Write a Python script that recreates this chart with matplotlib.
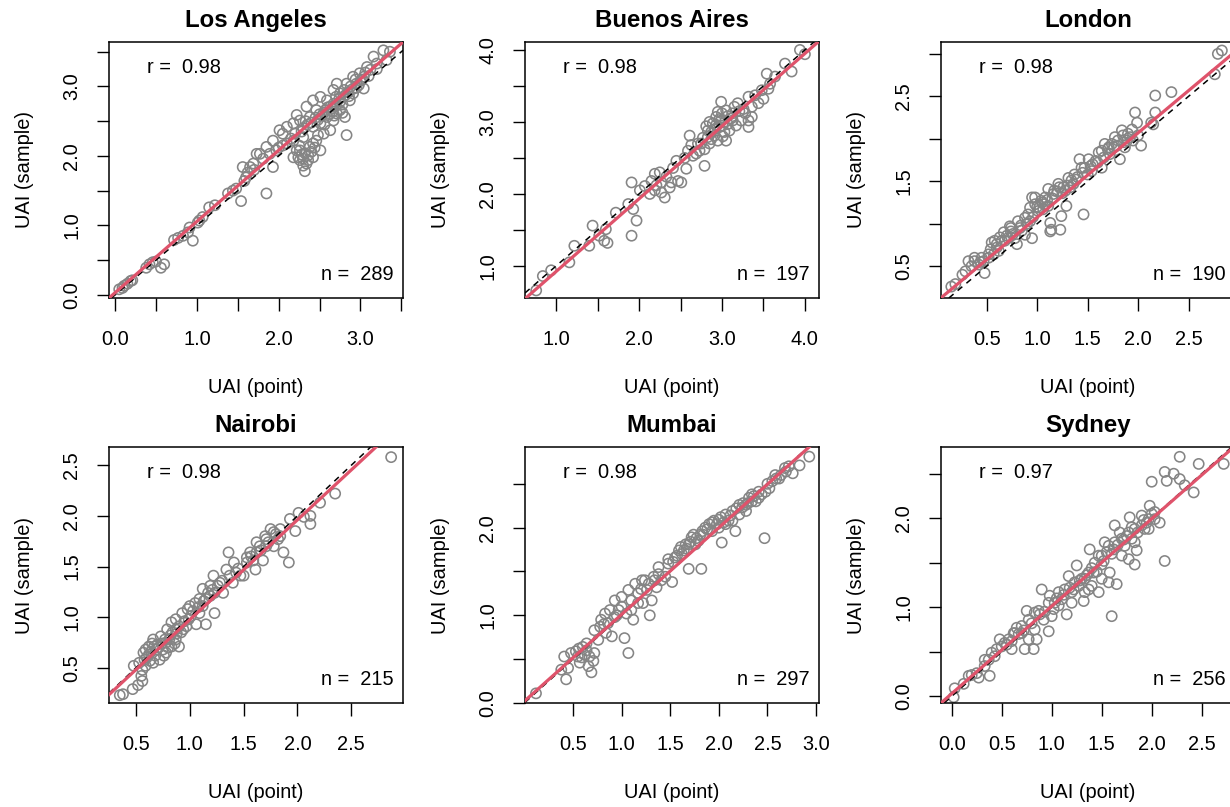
import numpy as np
import matplotlib
matplotlib.use("Agg")
import matplotlib.pyplot as plt

plt.rcParams["font.family"] = ["Liberation Sans", "DejaVu Sans"]

cities = ["Los Angeles", "Buenos Aires", "London", "Nairobi", "Mumbai", "Sydney"]
r_vals = [0.98, 0.98, 0.98, 0.98, 0.98, 0.97]
n_vals = [289, 197, 190, 215, 297, 256]
# lm fit (intercept, slope)
fit_a = [0.032, -0.086, 0.080, -0.011, 0.020, 0.030]
fit_b = [1.025, 1.009, 0.995, 0.986, 0.990, 0.982]

# (UAI point, UAI sample) pairs
la = [(0.05, 0.08), (0.09, 0.10), (0.11, 0.13), (0.15, 0.16), (0.19, 0.20), (0.21, 0.21),
      (0.38, 0.39), (0.42, 0.44), (0.46, 0.47), (0.50, 0.48), (0.56, 0.39), (0.60, 0.44),
      (0.72, 0.79), (0.77, 0.82), (0.83, 0.85), (0.89, 0.90), (0.91, 0.97), (0.95, 0.78),
      (1.01, 1.04), (1.03, 1.07), (1.07, 1.12), (1.15, 1.26), (1.22, 1.29),
      (1.38, 1.46), (1.44, 1.50), (1.48, 1.53), (1.54, 1.35), (1.85, 1.46),
      (1.56, 1.84), (1.60, 1.69), (1.65, 1.84), (1.69, 1.89), (1.73, 2.03), (1.77, 2.03),
      (1.81, 1.96), (1.85, 2.13), (1.89, 2.03), (1.93, 1.84), (1.93, 2.22), (1.97, 2.08),
      (2.01, 2.37), (2.05, 2.32), (2.10, 2.18), (2.10, 2.42), (2.18, 1.98), (2.18, 2.22),
      (2.18, 2.47), (2.22, 2.08), (2.22, 2.59), (2.24, 1.98), (2.26, 1.94), (2.26, 2.08),
      (2.26, 2.51), (2.30, 1.86), (2.30, 2.27), (2.32, 1.78), (2.34, 1.89), (2.34, 2.71),
      (2.36, 2.01), (2.38, 2.13), (2.38, 2.56), (2.42, 1.98), (2.42, 2.18), (2.42, 2.42),
      (2.42, 2.80), (2.46, 2.22), (2.46, 2.66), (2.51, 2.08), (2.51, 2.47), (2.51, 2.85),
      (2.55, 2.32), (2.59, 2.56), (2.59, 2.80), (2.63, 2.37), (2.63, 2.71), (2.67, 2.51),
      (2.67, 2.75), (2.67, 2.95), (2.71, 2.61), (2.71, 3.04), (2.75, 2.66), (2.75, 2.90),
      (2.79, 2.85), (2.81, 2.56), (2.83, 2.30), (2.83, 3.04), (2.87, 2.80), (2.91, 2.90),
      (2.91, 3.14), (2.95, 3.04), (2.99, 3.19), (3.04, 2.97), (3.04, 3.14), (3.08, 3.28),
      (3.12, 3.24), (3.16, 3.43), (3.20, 3.33), (3.28, 3.52), (3.32, 3.38), (3.36, 3.50),
      (2.55, 2.62), (2.65, 2.68), (2.75, 2.78), (2.85, 2.92), (2.95, 2.98), (3.00, 3.08),
      (2.60, 2.70), (2.70, 2.85), (2.80, 2.95), (2.88, 3.00), (2.50, 2.60), (2.45, 2.55),
      (2.35, 2.45), (2.30, 2.40), (2.20, 2.32), (2.15, 2.25), (2.05, 2.15), (2.00, 2.12),
      (3.10, 3.15), (3.20, 3.25),
      (2.28, 2.35), (2.33, 2.50), (2.40, 2.48), (2.48, 2.52), (2.53, 2.58), (2.57, 2.66),
      (2.62, 2.60), (2.66, 2.64), (2.70, 2.72), (2.74, 2.82), (2.78, 2.74), (2.82, 2.88),
      (2.86, 2.86), (2.90, 2.96), (2.94, 3.10), (2.98, 3.02), (3.02, 3.10), (3.06, 3.20),
      (2.28, 2.02), (2.32, 2.04), (2.36, 1.94), (2.40, 2.06), (2.44, 2.12), (2.30, 1.96),
      (2.25, 2.15), (2.48, 2.30), (2.56, 2.45), (2.68, 2.58), (2.78, 2.62), (1.62, 1.76),
      (1.70, 1.80), (1.58, 1.64)]

ba = [(0.76, 0.66), (0.84, 0.86), (0.94, 0.94), (1.16, 1.05), (1.22, 1.28), (1.40, 1.28),
      (1.44, 1.56), (1.52, 1.42), (1.58, 1.35), (1.62, 1.32), (1.60, 1.51), (1.72, 1.74),
      (1.87, 1.86), (1.91, 1.42), (1.91, 2.16), (1.97, 1.63), (1.93, 1.79), (2.01, 2.05),
      (2.07, 2.11), (2.13, 2.00), (2.19, 2.28), (2.25, 2.30), (2.27, 2.02), (2.31, 1.95),
      (2.37, 2.09), (2.27, 2.16), (2.45, 2.46), (2.51, 2.16), (2.47, 2.18), (2.57, 2.35),
      (2.59, 2.60), (2.61, 2.81), (2.65, 2.53), (2.71, 2.70), (2.77, 2.78), (2.79, 2.39),
      (2.85, 3.00), (2.87, 2.76), (2.91, 2.90), (2.95, 2.74), (2.99, 3.28), (3.00, 3.12),
      (3.05, 2.74), (3.07, 2.97), (3.11, 3.05), (3.15, 3.21), (3.19, 3.26), (3.23, 3.02),
      (3.32, 2.93), (3.32, 3.35), (3.36, 3.21), (3.40, 3.37), (3.50, 3.32), (3.54, 3.67),
      (3.58, 3.53), (3.64, 3.63), (3.76, 3.81), (3.84, 3.70), (3.94, 4.00), (4.00, 3.94),
      (2.83, 2.88), (2.89, 2.98), (2.93, 3.07), (2.97, 2.93), (3.03, 2.86), (3.09, 2.88),
      (3.13, 3.02), (3.17, 2.95), (2.95, 3.14), (2.83, 2.79), (2.91, 2.81), (2.75, 2.70),
      (2.99, 3.02), (3.05, 3.16), (3.28, 3.12), (3.36, 3.07), (3.44, 3.26), (3.48, 3.44),
      (3.56, 3.46), (3.32, 3.02),
      (2.81, 2.94), (2.87, 2.86), (2.93, 2.96), (2.97, 3.04), (3.01, 2.95), (3.07, 3.08),
      (3.13, 3.12), (2.79, 2.62), (2.73, 2.60), (2.63, 2.68), (2.69, 2.56), (2.55, 2.50),
      (2.41, 2.36), (2.33, 2.24), (2.21, 2.12), (2.15, 2.18), (2.39, 2.16), (2.19, 2.05),
      (3.21, 3.15), (3.26, 3.18), (3.01, 2.80), (2.85, 2.70)]

lon = [(0.15, 0.26), (0.19, 0.29), (0.29, 0.44), (0.32, 0.56), (0.38, 0.56), (0.38, 0.60),
       (0.42, 0.52), (0.45, 0.60), (0.47, 0.56), (0.48, 0.42), (0.52, 0.60), (0.52, 0.64),
       (0.55, 0.78), (0.57, 0.64), (0.58, 0.80), (0.60, 0.76), (0.62, 0.68), (0.63, 0.84),
       (0.65, 0.80), (0.67, 0.90), (0.70, 0.86), (0.71, 0.83), (0.73, 0.97), (0.74, 0.91),
       (0.74, 0.95), (0.78, 0.83), (0.80, 0.76), (0.81, 1.03), (0.83, 0.95), (0.85, 0.92),
       (0.88, 0.87), (0.88, 1.07), (0.91, 1.11), (0.93, 1.03), (0.93, 1.19), (0.95, 0.83),
       (0.95, 1.31), (0.98, 1.23), (0.98, 1.31), (1.01, 1.15), (1.02, 1.19), (1.04, 1.27),
       (1.06, 1.17), (1.07, 1.23), (1.08, 1.31), (1.11, 1.21), (1.11, 1.41), (1.13, 1.01),
       (1.13, 0.91), (1.14, 0.93), (1.16, 1.35), (1.17, 1.39), (1.21, 1.47), (1.22, 1.43),
       (1.23, 0.93), (1.24, 1.09), (1.26, 1.43), (1.28, 1.39), (1.29, 1.21), (1.31, 1.54),
       (1.33, 1.43), (1.34, 1.51), (1.36, 1.47), (1.37, 1.58), (1.39, 1.52), (1.42, 1.76),
       (1.44, 1.66), (1.46, 1.11), (1.47, 1.66), (1.50, 1.58), (1.51, 1.76), (1.53, 1.68),
       (1.54, 1.62), (1.58, 1.74), (1.61, 1.84), (1.64, 1.66), (1.64, 1.86), (1.67, 1.94),
       (1.70, 1.88), (1.72, 1.82), (1.74, 1.94), (1.76, 1.90), (1.77, 2.02), (1.80, 1.98),
       (1.82, 1.76), (1.84, 2.10), (1.85, 2.04), (1.87, 1.90), (1.89, 1.98), (1.90, 2.06),
       (1.94, 2.11), (1.95, 1.98), (1.97, 2.31), (1.99, 2.19), (2.00, 2.04), (2.03, 1.92),
       (2.13, 2.19), (2.15, 2.17), (2.17, 2.31), (2.17, 2.51), (2.33, 2.55), (2.76, 2.76),
       (2.79, 3.00), (2.83, 3.04),
       (0.68, 0.80), (0.76, 0.88), (0.84, 0.98), (0.90, 1.00), (0.96, 1.08), (1.00, 1.20),
       (1.05, 1.25), (1.10, 1.28), (1.15, 1.30), (1.20, 1.38), (1.25, 1.36), (1.30, 1.45),
       (1.40, 1.55), (1.45, 1.60), (1.55, 1.70), (1.60, 1.72), (1.66, 1.78), (1.71, 1.90),
       (1.79, 1.92), (1.86, 1.96), (1.92, 2.02), (0.54, 0.70), (0.60, 0.72), (0.44, 0.55),
       (0.35, 0.50), (0.26, 0.40)]

nai = [(0.35, 0.23), (0.38, 0.24), (0.47, 0.29), (0.52, 0.33), (0.55, 0.42), (0.56, 0.37),
       (0.48, 0.52), (0.53, 0.55), (0.56, 0.48), (0.58, 0.58), (0.59, 0.52), (0.59, 0.68),
       (0.62, 0.63), (0.62, 0.71), (0.66, 0.55), (0.66, 0.78), (0.67, 0.71), (0.69, 0.68),
       (0.70, 0.73), (0.72, 0.58), (0.73, 0.81), (0.75, 0.68), (0.77, 0.78), (0.78, 0.65),
       (0.78, 0.75), (0.81, 0.78), (0.83, 0.71), (0.83, 0.95), (0.84, 0.85), (0.87, 0.78),
       (0.87, 0.88), (0.87, 0.98), (0.90, 0.71), (0.90, 0.91), (0.92, 0.85), (0.93, 1.04),
       (0.95, 0.96), (0.97, 0.91), (0.98, 1.08), (1.00, 1.11), (1.01, 1.01), (1.05, 1.14),
       (1.06, 0.93), (1.09, 1.04), (1.09, 1.18), (1.12, 1.11), (1.12, 1.28), (1.15, 0.93),
       (1.15, 1.18), (1.19, 1.21), (1.19, 1.31), (1.22, 1.41), (1.23, 1.04), (1.23, 1.24),
       (1.26, 1.31), (1.28, 1.34), (1.31, 1.24), (1.34, 1.47), (1.36, 1.64), (1.37, 1.41),
       (1.40, 1.34), (1.41, 1.54), (1.43, 1.44), (1.47, 1.41), (1.50, 1.41), (1.53, 1.54),
       (1.53, 1.59), (1.56, 1.64), (1.59, 1.56), (1.61, 1.47), (1.62, 1.64), (1.65, 1.70),
       (1.68, 1.56), (1.70, 1.80), (1.71, 1.70), (1.71, 1.77), (1.75, 1.87), (1.78, 1.70),
       (1.78, 1.84), (1.82, 1.77), (1.84, 1.80), (1.84, 1.87), (1.87, 1.64), (1.92, 1.54),
       (1.93, 1.97), (1.98, 1.85), (2.01, 2.03), (2.06, 1.99), (2.12, 1.92), (2.12, 2.00),
       (2.21, 2.13), (2.35, 2.22), (2.87, 2.58),
       (0.60, 0.60), (0.64, 0.66), (0.68, 0.62), (0.71, 0.70), (0.74, 0.74), (0.76, 0.62),
       (0.80, 0.70), (0.82, 0.82), (0.86, 0.74), (0.88, 0.84), (0.57, 0.65), (0.63, 0.57),
       (0.65, 0.74), (0.79, 0.88), (0.94, 0.88), (0.99, 0.98), (1.03, 1.06), (1.08, 1.10),
       (1.13, 1.16), (1.17, 1.24), (1.21, 1.27), (1.30, 1.36), (1.45, 1.48), (1.57, 1.60),
       (1.66, 1.66), (1.73, 1.74), (1.80, 1.82), (1.62, 1.74)]

mum = [(0.12, 0.11), (0.38, 0.38), (0.43, 0.27), (0.45, 0.40), (0.41, 0.53), (0.48, 0.57),
       (0.53, 0.59), (0.55, 0.53), (0.57, 0.46), (0.59, 0.52), (0.60, 0.64), (0.64, 0.68),
       (0.64, 0.60), (0.66, 0.42), (0.69, 0.35), (0.67, 0.53), (0.72, 0.57), (0.71, 0.48),
       (0.72, 0.83), (0.76, 0.72), (0.78, 0.87), (0.79, 0.95), (0.83, 1.02), (0.84, 0.80),
       (0.86, 0.91), (0.88, 1.06), (0.90, 0.76), (0.93, 0.98), (0.93, 1.17), (0.97, 1.06),
       (1.00, 1.10), (1.00, 1.21), (1.03, 0.74), (1.05, 1.02), (1.07, 0.57), (1.07, 1.29),
       (1.10, 1.17), (1.10, 1.06), (1.12, 0.95), (1.14, 1.36), (1.17, 1.25), (1.17, 1.14),
       (1.21, 1.40), (1.22, 1.14), (1.24, 1.40), (1.26, 1.29), (1.29, 1.00), (1.31, 1.17),
       (1.33, 1.44), (1.36, 1.32), (1.38, 1.47), (1.38, 1.55), (1.41, 1.40), (1.45, 1.44),
       (1.48, 1.64), (1.48, 1.59), (1.52, 1.38), (1.53, 1.61), (1.55, 1.66), (1.59, 1.74),
       (1.62, 1.70), (1.64, 1.74), (1.66, 1.81), (1.69, 1.53), (1.69, 1.81), (1.72, 1.89),
       (1.74, 1.92), (1.76, 1.81), (1.79, 1.85), (1.81, 1.92), (1.82, 1.53), (1.84, 1.92),
       (1.86, 2.00), (1.90, 2.04), (1.93, 1.96), (1.93, 2.06), (1.98, 2.04), (2.00, 2.09),
       (2.00, 2.00), (2.03, 1.83), (2.07, 2.15), (2.07, 2.04), (2.10, 2.08), (2.14, 2.19),
       (2.14, 2.08), (2.17, 1.96), (2.21, 2.26), (2.21, 2.15), (2.24, 2.23), (2.28, 2.19),
       (2.28, 2.26), (2.31, 2.34), (2.34, 2.38), (2.34, 2.30), (2.38, 2.30), (2.41, 2.41),
       (2.41, 2.34), (2.47, 1.88), (2.48, 2.41), (2.52, 2.45), (2.55, 2.53), (2.59, 2.56),
       (2.64, 2.60), (2.69, 2.64), (2.76, 2.62), (2.83, 2.71), (2.93, 2.81),
       (1.57, 1.68), (1.61, 1.78), (1.67, 1.76), (1.71, 1.84), (1.77, 1.88), (1.83, 1.96),
       (1.88, 1.98), (1.95, 2.08), (2.02, 2.12), (2.05, 2.06), (2.12, 2.14), (2.18, 2.22),
       (2.25, 2.28), (2.30, 2.28), (2.36, 2.36), (2.44, 2.38), (2.50, 2.50), (2.58, 2.60),
       (2.62, 2.56), (2.68, 2.68), (2.72, 2.70), (1.20, 1.30), (1.28, 1.36), (1.34, 1.40),
       (0.95, 1.00), (0.82, 0.90), (0.62, 0.55), (0.56, 0.62)]

syd = [(0.02, -0.01), (0.03, 0.09), (0.12, 0.14), (0.17, 0.23), (0.20, 0.24), (0.25, 0.26),
       (0.27, 0.21), (0.38, 0.23), (0.33, 0.34), (0.33, 0.41), (0.37, 0.41), (0.40, 0.49),
       (0.43, 0.45), (0.45, 0.53), (0.48, 0.64), (0.50, 0.56), (0.53, 0.60), (0.57, 0.64),
       (0.60, 0.53), (0.62, 0.71), (0.63, 0.71), (0.65, 0.77), (0.70, 0.71), (0.70, 0.79),
       (0.73, 0.53), (0.75, 0.96), (0.77, 0.64), (0.77, 0.86), (0.82, 0.53), (0.83, 0.75),
       (0.83, 0.94), (0.85, 0.64), (0.87, 0.96), (0.90, 1.20), (0.92, 0.86), (0.97, 0.73),
       (0.97, 1.05), (0.98, 1.13), (1.00, 0.90), (1.02, 0.98), (1.03, 1.05), (1.07, 1.02),
       (1.07, 1.17), (1.10, 1.09), (1.13, 1.20), (1.15, 0.92), (1.17, 1.35), (1.20, 1.17),
       (1.20, 1.05), (1.23, 1.28), (1.25, 1.47), (1.27, 1.24), (1.30, 1.32), (1.32, 1.07),
       (1.33, 1.32), (1.33, 1.17), (1.37, 1.20), (1.37, 1.39), (1.38, 1.65), (1.40, 1.24),
       (1.42, 1.39), (1.43, 1.50), (1.47, 1.17), (1.47, 1.58), (1.50, 1.48), (1.50, 1.32),
       (1.50, 1.58), (1.53, 1.73), (1.57, 1.28), (1.57, 1.69), (1.58, 1.39), (1.60, 0.90),
       (1.62, 1.65), (1.63, 1.92), (1.63, 1.73), (1.65, 1.26), (1.68, 1.84), (1.70, 1.77),
       (1.70, 1.58), (1.73, 1.69), (1.77, 1.54), (1.77, 1.84), (1.78, 2.01), (1.80, 1.77),
       (1.83, 1.48), (1.83, 1.88), (1.83, 1.73), (1.85, 1.64), (1.90, 2.03), (1.90, 1.92),
       (1.93, 1.88), (1.97, 1.99), (1.97, 1.88), (1.98, 2.14), (2.00, 2.41), (2.03, 1.99),
       (2.03, 2.07), (2.08, 1.95), (2.13, 1.52), (2.13, 2.52), (2.15, 2.42), (2.22, 2.50),
       (2.28, 2.69), (2.28, 2.44), (2.33, 2.37), (2.42, 2.29), (2.47, 2.61), (2.72, 2.61),
       (1.05, 1.10), (1.12, 1.14), (1.18, 1.22), (1.22, 1.20), (1.28, 1.30), (1.35, 1.36),
       (1.40, 1.44), (1.45, 1.40), (1.52, 1.52), (1.55, 1.62), (1.60, 1.60), (1.66, 1.70),
       (1.72, 1.76), (1.75, 1.80), (1.80, 1.90), (1.86, 1.84), (1.92, 1.98), (1.95, 1.95),
       (2.00, 2.05), (0.55, 0.58), (0.60, 0.62), (0.67, 0.70), (0.72, 0.74), (0.80, 0.82),
       (0.88, 0.92), (0.93, 0.95)]

points = [la, ba, lon, nai, mum, syd]

xlims = [(-0.075, 3.52), (0.625, 4.17), (0.048, 2.96), (0.25, 2.98), (0.007, 3.03), (-0.107, 2.833)]
ylims = [(-0.045, 3.64), (0.555, 4.11), (0.126, 3.14), (0.153, 2.68), (0.045, 2.92), (-0.075, 2.80)]
xticks = [np.arange(0, 3.51, 0.5), np.arange(1, 4.01, 0.5), np.arange(0.5, 2.51, 0.5),
          np.arange(0.5, 2.51, 0.5), np.arange(0.5, 3.01, 0.5), np.arange(0, 2.51, 0.5)]
yticks = [np.arange(0, 3.51, 0.5), np.arange(1, 4.01, 0.5), np.arange(0.5, 3.01, 0.5),
          np.arange(0.5, 2.51, 0.5), np.arange(0, 2.51, 0.5), np.arange(0, 2.51, 0.5)]
x_skip = [True, True, False, False, False, False]
y_skip = [True, True, True, False, True, True]

W, H = 1230, 807
fig = plt.figure(figsize=(W / 100, H / 100), dpi=100)
lefts = [109, 525, 941]
tops = [42, 447]
bw, bh = 294, 256

fs = 14.4
for i, city in enumerate(cities):
    row, col = divmod(i, 3)
    ax = fig.add_axes([lefts[col] / W, 1 - (tops[row] + bh) / H, bw / W, bh / H])
    pts = np.array(points[i])
    ax.scatter(pts[:, 0], pts[:, 1], s=54, facecolors="none", edgecolors="#858585",
               linewidths=1.15, zorder=2)
    ax.axline((0, 0), slope=1, color="black", lw=1.1, dashes=(4, 3.5), zorder=3)
    ax.axline((0, fit_a[i]), slope=fit_b[i], color="#DF536B", lw=2.3, zorder=4)
    ax.set_xlim(xlims[i])
    ax.set_ylim(ylims[i])

    xt = xticks[i]
    ax.set_xticks(xt)
    ax.set_xticklabels([f"{v:.1f}" if (not x_skip[i] or k % 2 == 0) else "" for k, v in enumerate(xt)])
    yt = yticks[i]
    ax.set_yticks(yt)
    ax.set_yticklabels([f"{v:.1f}" if (not y_skip[i] or k % 2 == 0) else "" for k, v in enumerate(yt)],
                       rotation=90, va="center")
    ax.tick_params(axis="both", direction="out", length=9, width=1.0, labelsize=fs, color="black")
    ax.tick_params(axis="x", pad=14)
    ax.tick_params(axis="y", pad=11)
    for sp in ax.spines.values():
        sp.set_linewidth(1.1)

    ax.set_title(city, fontsize=17.3, fontweight="bold", pad=11)
    ax.text(0.5, -0.348, "UAI (point)", transform=ax.transAxes, ha="center", va="center", fontsize=fs)
    ax.text(-0.286, 0.5, "UAI (sample)", transform=ax.transAxes, ha="center", va="center",
            rotation=90, fontsize=fs)
    ax.text(0.128, 0.90, f"r =  {r_vals[i]:.2f}", transform=ax.transAxes, ha="left", va="center", fontsize=fs)
    ax.text(0.967, 0.09, f"n =  {n_vals[i]}", transform=ax.transAxes, ha="right", va="center", fontsize=fs)

fig.savefig("out.png", dpi=100)
